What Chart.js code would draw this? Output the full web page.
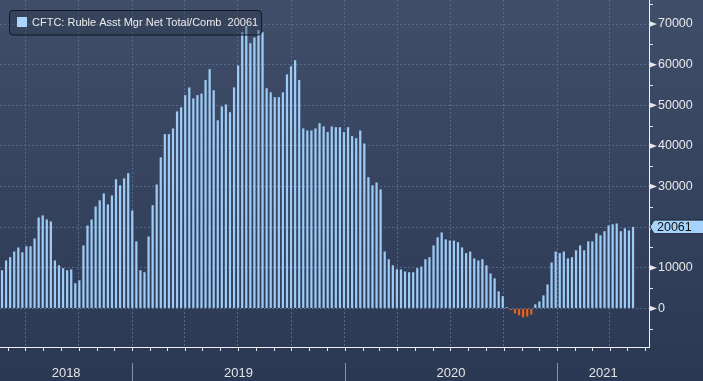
<!DOCTYPE html>
<html><head><meta charset="utf-8">
<script src="https://cdn.jsdelivr.net/npm/chart.js@4.4.1/dist/chart.umd.min.js"></script>
<style>html,body{margin:0;padding:0;background:#33415c;overflow:hidden}#wrap{width:703px;height:381px;position:relative}canvas{display:block}</style>
</head><body><div id="wrap"><canvas id="c" width="703" height="381"></canvas></div>
<script>
const seriesName = 'CFTC: Ruble Asst Mgr Net Total/Comb';
const firstWeek = '2018-05-22';
const values = [
 9400,11800,12600,14000,15000,13800,15300,15300,17200,22400,
 22900,21900,21400,11800,10600,9900,9400,9600,6200,6900,
 15500,20400,21900,25100,26600,28300,25600,27800,31800,30300,
 32000,33300,24100,16500,9400,8900,17700,25400,30500,37200,
 42900,42900,44300,48500,49500,52500,54400,51700,52500,52900,
 56200,58900,53700,46300,49700,50200,48300,54400,59800,68000,
 69500,65300,66700,68500,68000,54200,53200,52000,52000,53200,
 57600,59600,61100,56200,44300,43800,43800,44300,45600,44800,
 43400,44800,44600,44600,43400,44600,42400,41900,43800,40600,
 32300,30300,31000,29300,14000,12100,10600,9600,9600,9100,
 8900,8900,9900,10300,12100,12600,15500,17500,18700,17000,
 16700,16700,16300,15000,13600,14000,12300,11800,12100,10600,
 8600,7400,4200,3000,300,-400,-1200,-1700,-2200,-2000,
 -1500,1000,1700,3200,5900,11300,14000,13600,14000,12300,
 12600,14300,15500,14300,16500,16500,18500,18000,19000,20400,
 20700,20900,19000,19700,19200,20061
];
const yTickValues = [0,10000,20000,30000,40000,50000,60000,70000];
const yMinorValues = [-5000,5000,15000,25000,35000,45000,55000,65000,75000];
const yearLabels = ['2018','2019','2020','2021'];
const yearStarts = ['2019-01-01','2020-01-01','2021-01-01'];
const quarterStarts = ['2018-07-01','2018-10-01','2019-01-01','2019-04-01','2019-07-01','2019-10-01','2020-01-01','2020-04-01','2020-07-01','2020-10-01','2021-01-01','2021-04-01'];
const viewFrom = '2018-05-18';
const viewTo = '2021-06-07';

const EPOCH = Date.UTC(2018,0,1);
function dayOf(s){ return (Date.parse(s+'T00:00:00Z') - EPOCH)/86400000; }
const weekDays = values.map((v,i)=> dayOf(firstWeek) + 7*i);
const points = values.map((v,i)=>({x: weekDays[i], y: v}));
const BLUE = '#9ecbf5', ORANGE = '#e8621c';
const lastValue = values[values.length-1];

const deco = {
  id:'deco',
  beforeDraw(chart){
    const c = chart.ctx;
    const g = c.createLinearGradient(0,0,0,chart.height);
    g.addColorStop(0,'#404e69'); g.addColorStop(1,'#2a3853');
    c.save(); c.fillStyle = g; c.fillRect(0,0,chart.width,chart.height); c.restore();
  },
  afterDraw(chart){
    const c = chart.ctx, xs = chart.scales.x, ys = chart.scales.y, a = chart.chartArea;
    c.save();
    c.fillStyle = '#e8e8e8'; c.strokeStyle = '#e8e8e8'; c.lineWidth = 1;
    yTickValues.forEach(v=>{
      const p = ys.getPixelForValue(v);
      c.beginPath(); c.moveTo(a.right, p-3); c.lineTo(a.right+8, p); c.lineTo(a.right, p+3); c.closePath(); c.fill();
    });
    yMinorValues.forEach(v=>{
      const p = Math.round(ys.getPixelForValue(v))+0.5;
      if (p < a.top || p > a.bottom) return;
      c.beginPath(); c.moveTo(a.right, p); c.lineTo(a.right+4, p); c.stroke();
    });
    for (let y=2018; y<=2021; y++) for (let m=0; m<12; m++){
      const d = (Date.UTC(y,m,1)-EPOCH)/86400000;
      if (d < xs.min || d > xs.max) continue;
      const px = Math.round(xs.getPixelForValue(d))+0.5;
      c.beginPath(); c.moveTo(px, a.bottom); c.lineTo(px, a.bottom+4); c.stroke();
    }
    const bounds = [a.left].concat(yearStarts.map(s=>xs.getPixelForValue(dayOf(s)))).concat([a.right]);
    c.strokeStyle = '#8592a8';
    yearStarts.forEach(s=>{
      const px = Math.round(xs.getPixelForValue(dayOf(s)))+0.5;
      c.beginPath(); c.moveTo(px, 363); c.lineTo(px, chart.height); c.stroke();
    });
    c.fillStyle = '#e4e4e4'; c.font = '13px "Liberation Sans", Arial, sans-serif';
    c.textAlign = 'center'; c.textBaseline = 'middle';
    yearLabels.forEach((t,i)=>{ c.fillText(t, (bounds[i]+bounds[i+1])/2, 373); });
    const py = ys.getPixelForValue(lastValue);
    const x0 = a.right + 1;
    c.beginPath();
    c.moveTo(x0, py); c.lineTo(x0+4, py-6.8); c.lineTo(chart.width+2, py-6.8);
    c.lineTo(chart.width+2, py+6.8); c.lineTo(x0+4, py+6.8); c.closePath();
    c.fillStyle = '#a6d3fb'; c.fill(); c.strokeStyle = '#1a2232'; c.stroke();
    c.fillStyle = '#111'; c.textAlign = 'left'; c.font = '12.5px "Liberation Sans", Arial, sans-serif';
    c.fillText(String(lastValue), x0+7, py+0.5);
    c.beginPath();
    c.roundRect(9.5, 10.5, 252, 24.5, 3.5);
    c.fillStyle = 'rgba(38,48,70,0.35)'; c.fill();
    c.strokeStyle = '#131926'; c.lineWidth = 1; c.stroke();
    c.fillStyle = '#a8d4fd'; c.fillRect(17, 17, 10, 10);
    c.fillStyle = '#ececec'; c.font = '11px "Liberation Sans", Arial, sans-serif';
    c.textAlign = 'left'; c.textBaseline = 'middle';
    c.fillText(seriesName + '  ' + lastValue, 32, 23);
    c.restore();
  }
};

new Chart(document.getElementById('c'), {
  type: 'bar',
  data: { datasets: [{
    data: points,
    backgroundColor: values.map(v => v < 0 ? ORANGE : BLUE),
    borderWidth: 0,
    barPercentage: 0.55,
    categoryPercentage: 1.0
  }]},
  options: {
    responsive: false, animation: false, devicePixelRatio: 1,
    layout: { padding: 0 },
    plugins: { legend: { display: false }, tooltip: { enabled: false } },
    scales: {
      x: {
        type: 'linear', offset: false,
        min: dayOf(viewFrom) + 0.55, max: dayOf(viewTo) + 0.48,
        afterBuildTicks: s => { s.ticks = quarterStarts.map(q => ({ value: dayOf(q) })); },
        afterFit: s => { s.height = 34; s.paddingLeft = 0; s.paddingRight = 0; s.paddingTop = 0; s.paddingBottom = 0; },
        ticks: { display: false },
        grid: { color: '#56698a', lineWidth: 1, drawTicks: false, offset: false },
        border: { display: true, color: '#f2f2f2', width: 1, dash: [2,2] }
      },
      y: {
        position: 'right',
        min: -9505, max: 75917,
        afterBuildTicks: s => { s.ticks = yTickValues.map(v => ({ value: v })); },
        afterFit: s => { s.width = 54; s.paddingTop = 0; s.paddingBottom = 0; s.paddingLeft = 0; s.paddingRight = 0; },
        ticks: { color: '#e8e8e8', padding: 9, font: { family: '"Liberation Sans", Arial, sans-serif', size: 12.5 },
                 callback: v => String(v) },
        grid: { color: '#56698a', lineWidth: 1, drawTicks: false },
        border: { display: true, color: '#f2f2f2', width: 1, dash: [2,2] }
      }
    }
  },
  plugins: [deco]
});
</script></body></html>
